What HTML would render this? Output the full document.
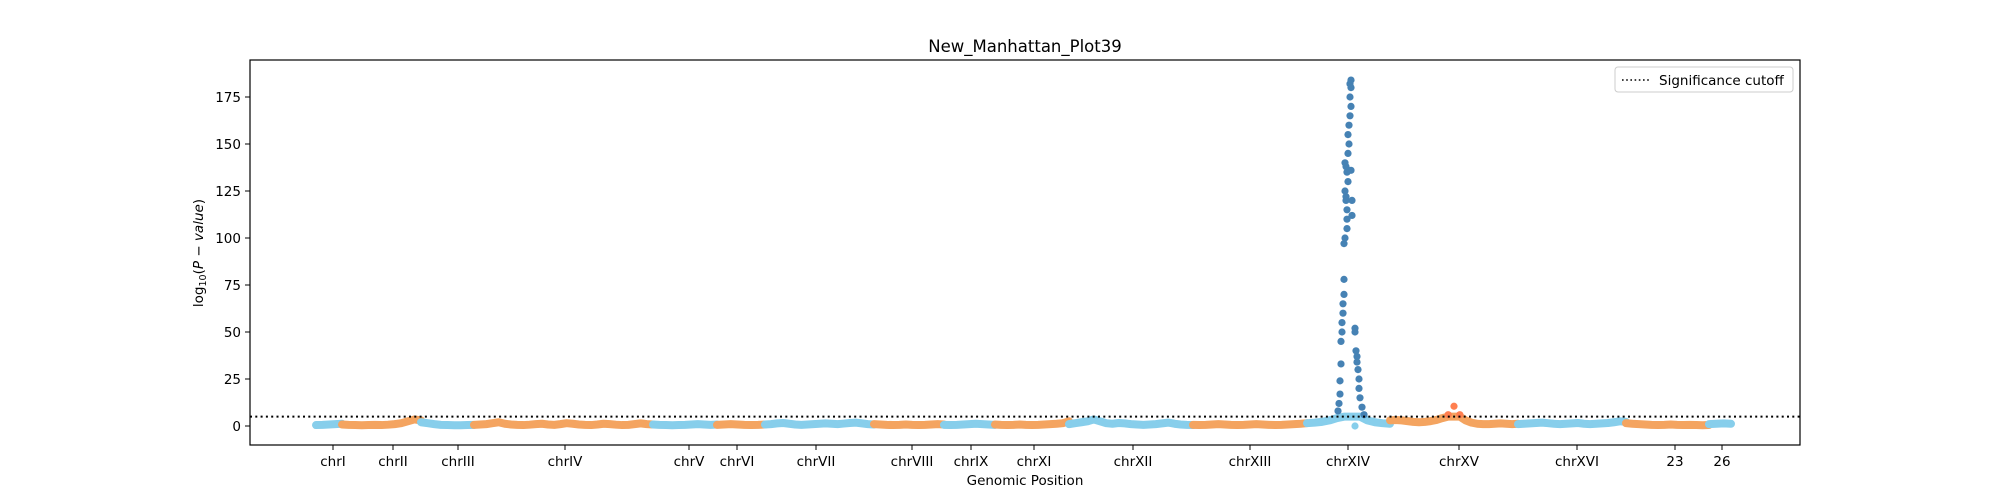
<!DOCTYPE html>
<html><head><meta charset="utf-8"><style>
html,body{margin:0;padding:0;background:#fff}
svg{display:block;font-family:"DejaVu Sans","Liberation Sans",sans-serif}
</style></head><body>
<svg id="chart" width="2000" height="500" viewBox="0 0 2000 500">
<text x="1025" y="52" text-anchor="middle" font-size="16.5">New_Manhattan_Plot39</text>
<g id="plot"></g>
<rect x="250" y="60" width="1550" height="385" fill="none" stroke="#000" stroke-width="1.2"/>
<g id="yaxis"></g>
<g id="xaxis"></g>
<text transform="translate(203,253) rotate(-90)" text-anchor="middle" font-size="13.5">log<tspan font-size="9.5" dy="3">10</tspan><tspan dy="-3">(</tspan><tspan font-style="italic">P</tspan> − <tspan font-style="italic">value</tspan>)</text>
<text x="1025" y="485" text-anchor="middle" font-size="13.5">Genomic Position</text>
<g>
<rect x="1615" y="67" width="178" height="25" rx="3" fill="#fff" stroke="#ccc"/>
<line x1="1622" y1="80" x2="1650" y2="80" stroke="#000" stroke-width="1.6" stroke-dasharray="1.6,2.6"/>
<text x="1659" y="85" font-size="13.5">Significance cutoff</text>
</g>
</svg>
<script>
const yTicks=[0,25,50,75,100,125,150,175];
const cutoff=5;
const chromNames=["chrI","chrII","chrIII","chrIV","chrV","chrVI","chrVII","chrVIII","chrIX","chrXI","chrXII","chrXIII","chrXIV","chrXV","chrXVI","23","26"];
const chromStart=[66,92,171,224,403,467,515,624,694,745,819,943,1057,1140,1268,1376,1459];
const chromEnd=[92,171,224,403,467,515,624,694,745,819,943,1057,1140,1268,1376,1459,1481];
const tickPos=[83,143,208,315,439,487,566,662,721,784,883,1000,1098,1209,1327,1425,1472];
const chromVals=[
[0.5,0.6,0.8,1.0,1.2],
[0.8,0.6,0.5,0.4,0.5,0.6,0.5,0.7,1.0,1.5,2.5,3.5,3.0],
[2.0,1.5,1.0,0.6,0.5,0.4,0.4,0.5,0.6],
[0.6,0.8,1.0,1.5,2.0,1.2,0.8,0.6,0.5,0.7,1.0,1.2,0.8,0.6,1.0,1.5,1.2,0.8,0.6,0.5,0.8,1.2,1.0,0.7,0.5,0.6,1.0,1.4,1.0,0.8],
[0.8,0.6,0.5,0.4,0.5,0.6,0.8,1.0,0.8,0.6,0.8],
[0.6,0.8,1.0,0.8,0.6,0.5,0.6,0.8],
[0.8,1.0,1.4,1.6,1.2,0.8,0.6,0.8,1.0,1.2,1.4,1.2,1.0,1.3,1.6,1.8,1.4,1.0,0.8],
[1.0,0.8,0.6,0.5,0.6,0.8,0.6,0.5,0.6,0.8,1.0,0.8],
[0.6,0.5,0.6,0.8,1.0,1.2,1.0,0.8,0.6],
[0.8,0.6,0.5,0.6,0.8,0.6,0.5,0.6,0.8,1.0,1.2,1.5,2.5],
[1.0,1.5,2.0,2.5,3.5,2.5,1.5,1.2,1.6,1.4,1.0,0.8,0.6,0.8,1.0,1.4,1.8,1.2,0.8,0.6,0.5],
[0.6,0.5,0.6,0.8,1.0,0.8,0.6,0.5,0.6,0.8,1.0,0.8,0.6,0.5,0.6,0.8,1.0,1.2,1.5],
[1.5,1.8,2.2,3.0,4.2,5,5,5,3.0,2.0,1.5,1.2],
[3.0,3.2,3.0,2.6,2.2,2.0,2.2,2.6,3.2,4.2,6.0,10.5,6.0,3.0,1.8,1.2,1.0,1.0,1.2,1.4,1.2,1.0,1.2],
[1.0,1.2,1.4,1.6,1.8,1.5,1.2,1.0,1.2,1.4,1.6,1.2,1.0,1.2,1.4,1.6,2.0,2.5,2.2],
[1.5,1.2,1.0,0.8,0.6,0.5,0.6,0.8,0.6,0.5,0.6,0.5,0.4,0.5],
[1.0,1.2,1.4,1.2]
];
const peakPos=[1088,1089,1090,1090,1091,1091,1092,1092,1093,1093,1094,1094,1094,1095,1097,1097,1097,1096,1096,1095,1098,1097,1096,1095,1098,1099,1098,1099,1100,1101,1100,1101,1100,1101,1101,1102,1102,1105,1105,1106,1107,1107,1108,1109,1109,1110,1112,1114,1105];
const peakVals=[8,12,17,24,33,45,50,55,60,65,70,78,97,100,105,110,115,120,122,125,130,135,138,140,145,150,155,160,165,170,175,180,182,184,136,120,112,52,50,40,37,34,30,25,20,15,10,6,0];

const NS="http://www.w3.org/2000/svg";
const X0=250,Y0=426,YS=1.88;
function xs(p){return X0+p;}
function ys(v){return Y0-v*YS;}
function mk(tag,attrs,parent){const e=document.createElementNS(NS,tag);for(const k in attrs)e.setAttribute(k,attrs[k]);parent.appendChild(e);return e;}
const plot=document.getElementById('plot'),ya=document.getElementById('yaxis'),xa=document.getElementById('xaxis');
const light=["#87ceeb","#f4a460"],dark=["#4682b4","#ff7f50"];
chromVals.forEach((vals,ci)=>{
  const s=chromStart[ci],e=chromEnd[ci],n=vals.length,c=ci%2;
  const g=mk('g',{},plot);
  
  
  const pts=vals.map((v,i)=>[xs(s+(n>1?i*(e-s)/(n-1):0)),ys(Math.min(v,cutoff))]);
  const pl=mk('polyline',{points:pts.map(p=>p.join(',')).join(' '),fill:'none',stroke:light[c],'stroke-width':8,'stroke-linecap':'round','stroke-linejoin':'round'},g);
  
  
  vals.forEach((v,i)=>{
    const x=xs(s+(n>1?i*(e-s)/(n-1):0));
    const ci2=mk('circle',{cx:x,cy:ys(v),r:3.6,fill:v>cutoff?dark[c]:light[c]},g);
    
    
  });
});
const pg=mk('g',{},plot);


peakVals.forEach((v,i)=>{
  const c=mk('circle',{cx:xs(peakPos[i]),cy:ys(v),r:3.6,fill:v>cutoff?dark[0]:light[0]},pg);
  
  
});
const cl=mk('line',{x1:250,x2:1800,y1:ys(cutoff),y2:ys(cutoff),stroke:'#000','stroke-width':2,'stroke-dasharray':'2,3.3'},plot);


yTicks.forEach(t=>{
  const y=ys(t);
  const l=mk('line',{x1:245,x2:250,y1:y,y2:y,stroke:'#000','stroke-width':1},ya);
  
  
  const tx=mk('text',{x:241,y:y+5,'text-anchor':'end','font-size':13.5},ya);
  tx.textContent=t;
  
  
});
chromNames.forEach((nm,i)=>{
  const x=xs(tickPos[i]);
  const l=mk('line',{x1:x,x2:x,y1:445,y2:450,stroke:'#000','stroke-width':1},xa);
  
  
  const tx=mk('text',{x:x,y:466,'text-anchor':'middle','font-size':13.5},xa);
  tx.textContent=nm;
  
  
});
</script>
</body></html>
